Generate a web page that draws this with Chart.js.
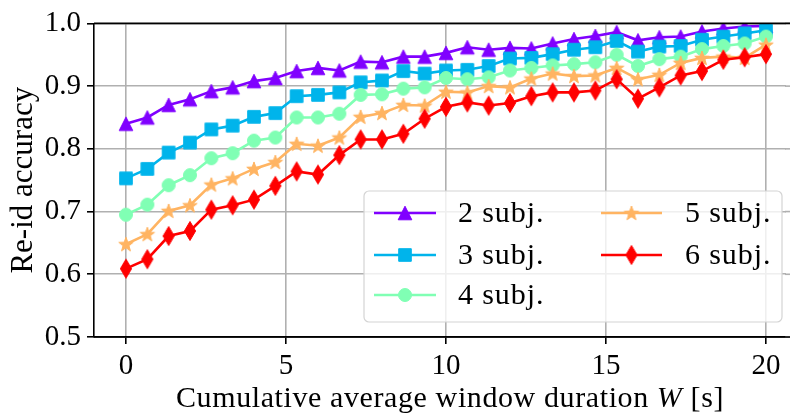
<!DOCTYPE html>
<html>
<head>
<meta charset="utf-8">
<script src="https://cdn.jsdelivr.net/npm/chart.js@4"></script>
<style>
  html, body { margin: 0; padding: 0; background: #fff; overflow: hidden; }
  #wrap { width: 790px; height: 420px; overflow: hidden; }
</style>
</head>
<body>
<div id="wrap"><canvas id="chart" width="820" height="420"></canvas></div>
<script>
const FONT = "'Liberation Serif', 'DejaVu Serif', serif";

// window duration W [s]
const durations = [0, 0.667, 1.333, 2, 2.667, 3.333, 4, 4.667, 5.333, 6, 6.667, 7.333, 8, 8.667,
  9.333, 10, 10.667, 11.333, 12, 12.667, 13.333, 14, 14.667, 15.333, 16, 16.667, 17.333, 18,
  18.667, 19.333, 20];

const subj2 = [0.840, 0.850, 0.870, 0.879, 0.892, 0.898, 0.908, 0.913, 0.924, 0.929, 0.925, 0.939,
  0.938, 0.947, 0.947, 0.953, 0.962, 0.958, 0.961, 0.960, 0.968, 0.975, 0.980, 0.986, 0.973,
  0.978, 0.979, 0.987, 0.992, 0.995, 0.996];
const subj3 = [0.753, 0.768, 0.794, 0.810, 0.831, 0.837, 0.851, 0.857, 0.884, 0.886, 0.890, 0.906,
  0.909, 0.924, 0.920, 0.925, 0.926, 0.932, 0.944, 0.945, 0.951, 0.958, 0.962, 0.972, 0.955,
  0.963, 0.964, 0.974, 0.979, 0.984, 0.989];
const subj4 = [0.695, 0.711, 0.742, 0.758, 0.785, 0.793, 0.813, 0.818, 0.850, 0.850, 0.856, 0.886,
  0.887, 0.896, 0.898, 0.913, 0.911, 0.914, 0.925, 0.929, 0.933, 0.935, 0.938, 0.950, 0.932,
  0.943, 0.947, 0.959, 0.964, 0.968, 0.979];
const subj5 = [0.648, 0.664, 0.701, 0.710, 0.743, 0.753, 0.768, 0.779, 0.808, 0.805, 0.818, 0.851,
  0.857, 0.870, 0.869, 0.891, 0.890, 0.900, 0.898, 0.912, 0.920, 0.916, 0.917, 0.929, 0.911,
  0.918, 0.937, 0.945, 0.947, 0.945, 0.966];
const subj6 = [0.609, 0.624, 0.661, 0.669, 0.703, 0.710, 0.719, 0.741, 0.764, 0.759, 0.790, 0.815,
  0.815, 0.824, 0.848, 0.867, 0.874, 0.869, 0.873, 0.884, 0.890, 0.890, 0.893, 0.911, 0.880,
  0.898, 0.917, 0.924, 0.942, 0.946, 0.951];

const seriesLabels = ["2 subj.", "3 subj.", "4 subj.", "5 subj.", "6 subj."];
const seriesValues = [subj2, subj3, subj4, subj5, subj6];
const seriesColors = ["#8000ff", "#00b4eb", "#80ffb4", "#ffb462", "#ff0000"];
const seriesShapes = ["triangle", "square", "circle", "star", "thinDiamond"];

const xTicks = [0, 5, 10, 15, 20];
const yTicks = [0.5, 0.6, 0.7, 0.8, 0.9, 1.0];

const GRID = "#b0b0b0";

function makeMarker(shape, color) {
  const c = document.createElement("canvas");
  c.width = 22;
  c.height = 22;
  const ctx = c.getContext("2d");
  const cx = 11, cy = 11;
  ctx.fillStyle = color;
  ctx.strokeStyle = color;
  ctx.lineWidth = 1;
  ctx.beginPath();
  if (shape === "triangle") {
    ctx.moveTo(cx, cy - 6.8);
    ctx.lineTo(cx + 6.8, cy + 6.8);
    ctx.lineTo(cx - 6.8, cy + 6.8);
    ctx.closePath();
  } else if (shape === "square") {
    ctx.rect(cx - 6.3, cy - 6.3, 12.6, 12.6);
  } else if (shape === "circle") {
    ctx.arc(cx, cy, 6.5, 0, Math.PI * 2);
  } else if (shape === "star") {
    const outer = 7.6, inner = 3.1;
    for (let k = 0; k < 10; k++) {
      const r = k % 2 === 0 ? outer : inner;
      const a = -Math.PI / 2 + k * Math.PI / 5;
      const px = cx + r * Math.cos(a);
      const py = cy + r * Math.sin(a) + 0.6;
      if (k === 0) ctx.moveTo(px, py); else ctx.lineTo(px, py);
    }
    ctx.closePath();
  } else if (shape === "thinDiamond") {
    ctx.moveTo(cx, cy - 9.5);
    ctx.lineTo(cx + 5.6, cy);
    ctx.lineTo(cx, cy + 9.5);
    ctx.lineTo(cx - 5.6, cy);
    ctx.closePath();
  }
  ctx.fill();
  ctx.stroke();
  return c;
}

const markers = seriesShapes.map((s, i) => makeMarker(s, seriesColors[i]));

const datasets = seriesLabels.map((label, i) => ({
  label,
  data: durations.map((d, k) => ({ x: d, y: seriesValues[i][k] })),
  borderColor: seriesColors[i],
  backgroundColor: seriesColors[i],
  borderWidth: 2.6,
  pointStyle: markers[i],
  pointRadius: 7,
  tension: 0,
  order: seriesLabels.length - i,
}));

const framePlugin = {
  id: "frame",
  afterDraw(chart) {
    const { ctx, chartArea, scales } = chart;
    ctx.save();

    // keep the cut right edge clean: only the horizontal grid runs to the border
    ctx.fillStyle = "#fff";
    ctx.fillRect(786, chartArea.top, 40, chartArea.bottom - chartArea.top);
    ctx.strokeStyle = GRID;
    ctx.lineWidth = 1.6;
    yTicks.forEach((v) => {
      const py = scales.y.getPixelForValue(v);
      ctx.beginPath();
      ctx.moveTo(785, py);
      ctx.lineTo(chartArea.right, py);
      ctx.stroke();
    });

    ctx.strokeStyle = "#000";
    ctx.beginPath();
    ctx.moveTo(chartArea.left, chartArea.top);
    ctx.lineTo(chartArea.right, chartArea.top);
    ctx.stroke();
    ctx.beginPath();
    ctx.moveTo(chartArea.left, chartArea.bottom);
    ctx.lineTo(chartArea.right, chartArea.bottom);
    ctx.stroke();

    // x axis title with italic W
    const parts = [
      { t: "Cumulative average window duration ", f: `30px ${FONT}` },
      { t: "W", f: `italic 30px ${FONT}` },
      { t: " [s]", f: `30px ${FONT}` },
    ];
    ctx.letterSpacing = "0.6px";
    let total = 0;
    parts.forEach((p) => { ctx.font = p.f; p.w = ctx.measureText(p.t).width; total += p.w; });
    let x = 450 - total / 2;
    ctx.fillStyle = "#000";
    ctx.textBaseline = "alphabetic";
    parts.forEach((p) => { ctx.font = p.f; ctx.fillText(p.t, x, 407); x += p.w; });
    ctx.restore();
  },
};

const legendPlugin = {
  id: "boxLegend",
  afterDatasetsDraw(chart) {
    const { ctx } = chart;
    const box = { x: 364, y: 191, w: 418, h: 131 };
    ctx.save();
    ctx.fillStyle = "rgba(255,255,255,0.8)";
    ctx.strokeStyle = "#d4d4d4";
    ctx.lineWidth = 1.2;
    ctx.beginPath();
    ctx.roundRect(box.x, box.y, box.w, box.h, 5);
    ctx.fill();
    ctx.stroke();

    const cols = [{ x0: 374, x1: 436, tx: 458 }, { x0: 601, x1: 662, tx: 685 }];
    const rows = [213, 255, 295];
    ctx.font = `30px ${FONT}`;
    ctx.letterSpacing = "0.9px";
    ctx.textBaseline = "middle";
    seriesLabels.forEach((label, i) => {
      const col = cols[i < 3 ? 0 : 1];
      const y = rows[i < 3 ? i : i - 3];
      ctx.strokeStyle = seriesColors[i];
      ctx.lineWidth = 2.6;
      ctx.beginPath();
      ctx.moveTo(col.x0, y);
      ctx.lineTo(col.x1, y);
      ctx.stroke();
      const m = markers[i];
      ctx.drawImage(m, (col.x0 + col.x1) / 2 - m.width / 2, y - m.height / 2);
      ctx.fillStyle = "#000";
      ctx.fillText(label, col.tx, y + 1);
    });
    ctx.restore();
  },
};

new Chart(document.getElementById("chart"), {
  type: "line",
  data: { datasets },
  plugins: [legendPlugin, framePlugin],
  options: {
    responsive: false,
    animation: false,
    devicePixelRatio: 1,
    layout: { padding: { top: 18, right: 22, left: 0, bottom: 0 } },
    plugins: { legend: { display: false }, tooltip: { enabled: false } },
    scales: {
      x: {
        type: "linear",
        min: -1,
        max: 21,
        afterBuildTicks: (scale) => { scale.ticks = xTicks.map((v) => ({ value: v })); },
        afterFit: (scale) => {
          scale.height = 83;
          scale.paddingLeft = 0;
          scale.paddingRight = 0;
        },
        grid: { color: GRID, lineWidth: 1.6, tickLength: 7, tickColor: "#000" },
        border: { color: "#000", width: 1.6 },
        ticks: { color: "#000", font: { family: FONT, size: 29 }, padding: 5, maxRotation: 0 },
      },
      y: {
        min: 0.5,
        max: 1.0,
        afterBuildTicks: (scale) => { scale.ticks = yTicks.map((v) => ({ value: v })); },
        afterFit: (scale) => { scale.width = 94; },
        grid: { color: GRID, lineWidth: 1.6, tickLength: 7, tickColor: "#000" },
        border: { color: "#000", width: 1.6 },
        ticks: {
          color: "#000",
          font: { family: FONT, size: 29 },
          padding: 6,
          callback: (v) => Number(v).toFixed(1),
        },
        title: {
          display: true,
          text: "Re-id accuracy",
          color: "#000",
          font: { family: FONT, size: 31 },
          padding: { top: 5, bottom: 0 },
        },
      },
    },
  },
});
</script>
</body>
</html>
